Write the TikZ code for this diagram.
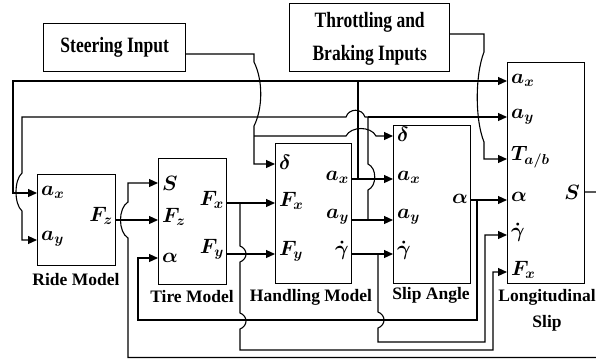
\documentclass[tikz,border=0pt]{standalone}
\usepackage{fontspec}
\setmainfont{Liberation Serif}
\usetikzlibrary{arrows.meta}
\begin{document}
\begin{tikzpicture}[x=1pt,y=-1pt,
  box/.style={draw,line width=1.4pt,inner sep=0pt,anchor=north west},
  lbl/.style={font=\fontsize{17.5}{26}\selectfont\bfseries,inner sep=0pt},
  port/.style={font=\fontsize{20}{22}\selectfont\boldmath,inner sep=0pt},
  pl/.style={port,anchor=west},
  pr/.style={port,anchor=east},
  wire/.style={line width=1.1pt},
  arr/.style={wire,-{Triangle[length=9pt,width=8pt]}},
]
\useasboundingbox (0,0) rectangle (596,360);

% boxes
\node[box,lbl,minimum width=142pt,minimum height=48pt] (steer) at (43,23) {\scalebox{1}[1.25]{Steering Input}};
\node[box,lbl,minimum width=160pt,minimum height=68pt] (throt) at (289,3)
  {\scalebox{1}[1.25]{\begin{tabular}{@{}c@{}}Throttling and\\Braking Inputs\end{tabular}}};
\node[box,minimum width=78pt,minimum height=91pt] (ride) at (37,174) {};
\node[box,minimum width=68pt,minimum height=126pt] (tire) at (158,158) {};
\node[box,minimum width=76pt,minimum height=140pt] (hand) at (275,143) {};
\node[box,minimum width=77pt,minimum height=158pt] (slip) at (393,125) {};
\node[box,minimum width=77pt,minimum height=221pt] (long) at (507,62) {};

% captions
\node[lbl] (ridel) at (76,280) {Ride Model};
\node[lbl] (tirel) at (192,297) {Tire Model};
\node[lbl] (handl) at (311,297) {Handling Model};
\node[lbl] (slipl) at (431,295) {Slip Angle};
\node[lbl,align=center] (longl) at (547,310) {Longitudinal\\Slip};

% port labels
\node[pl] (l-rax) at (41,192) {$a_x$};
\node[pl] (l-ray) at (41,239) {$a_y$};
\node[pr] (l-rfz) at (113,216) {$F_z$};
\node[pl] (l-ts) at (162,183) {$S$};
\node[pl] (l-tfz) at (162,217) {$F_z$};
\node[pl] (l-tal) at (162,258) {$\alpha$};
\node[pr] (l-tfx) at (224,200) {$F_x$};
\node[pr] (l-tfy) at (224,249) {$F_y$};
\node[pl] (l-hd) at (279,162) {$\delta$};
\node[pl] (l-hfx) at (279,201) {$F_x$};
\node[pl] (l-hfy) at (279,251) {$F_y$};
\node[pr] (l-hax) at (349,177) {$a_x$};
\node[pr] (l-hay) at (349,217) {$a_y$};
\node[pr] (l-hgd) at (349,250) {$\dot{\gamma}$};
\node[pl] (l-sd) at (397,134) {$\delta$};
\node[pl] (l-sax) at (397,177) {$a_x$};
\node[pl] (l-say) at (397,217) {$a_y$};
\node[pl] (l-sgd) at (397,250) {$\dot{\gamma}$};
\node[pr] (l-sal) at (468,199) {$\alpha$};
\node[pl] (l-lax) at (511,80) {$a_x$};
\node[pl] (l-lay) at (511,117) {$a_y$};
\node[pl] (l-lt) at (511,157) {$T_{a/b}$};
\node[pl] (l-lal) at (511,197) {$\alpha$};
\node[pl] (l-lgd) at (511,232) {$\dot{\gamma}$};
\node[pl] (l-lfx) at (511,270) {$F_x$};
\node[pr] (l-ls) at (580,192) {$S$};

% port coordinates
\coordinate (rax) at (37,193);  \coordinate (ray) at (37,240);  \coordinate (rfz) at (115,220);
\coordinate (ts) at (158,183);  \coordinate (tfz) at (158,220); \coordinate (tal) at (158,258);
\coordinate (tfx) at (226,203); \coordinate (tfy) at (226,254);
\coordinate (hd) at (275,164);  \coordinate (hfx) at (275,203); \coordinate (hfy) at (275,254);
\coordinate (hax) at (351,179); \coordinate (hay) at (351,220); \coordinate (hgd) at (351,254);
\coordinate (sd) at (393,136);  \coordinate (sax) at (393,179); \coordinate (say) at (393,220);
\coordinate (sgd) at (393,254); \coordinate (sal) at (470,200);
\coordinate (lax) at (507,81);  \coordinate (lay) at (507,117); \coordinate (lt) at (507,159);
\coordinate (lal) at (507,200); \coordinate (lgd) at (507,235); \coordinate (lfx) at (507,272);
\coordinate (ls) at (584,192);
\coordinate (so) at (185,54);   \coordinate (tho) at (449,34);

% steering
\draw[arr] (so) -- (254,54) -- (254,62) .. controls (263,80) and (263,108) .. (254,126) -- (254,164) -- (hd);
\draw[arr] (254,136) -- (346,136) .. controls (351,126) and (371,126) .. (376,136) -- (sd);
% throttle
\draw[arr] (tho) -- (484,34) -- (484,52) .. controls (475,75) and (475,120) .. (484,142) -- (484,159) -- (lt);
% a_x
\draw[arr] (hax) -- (sax);
\draw[arr] (358,179) -- (358,81) -- (lax);
\draw[arr] (358,81) -- (13,81) -- (13,193) -- (rax);
% a_y
\draw[arr] (hay) -- (say);
\draw[wire] (368,220) -- (368,190) .. controls (377,186) and (377,168) .. (368,164) -- (368,117);
\draw[arr] (368,117) -- (lay);
\draw[arr] (368,117) -- (365,117) .. controls (362,108) and (349,108) .. (346,117) -- (22,117) -- (22,173)
  .. controls (14,180) and (14,204) .. (22,211) -- (22,240) -- (ray);
% F_z and S feedback
\draw[arr] (rfz) -- (tfz);
\draw[arr] (ls) -- (600,192) -- (600,357.5) -- (128,357.5) -- (128,238) .. controls (118,232) and (118,208) .. (128,202) -- (128,183) -- (ts);
% F_x
\draw[arr] (tfx) -- (hfx);
\draw[arr] (240,203) -- (240,246) .. controls (248,249) and (248,259) .. (240,262) -- (240,313)
  .. controls (248,316) and (248,326) .. (240,329) -- (240,350) -- (493,350) -- (493,272) -- (lfx);
% F_y
\draw[arr] (tfy) -- (hfy);
% alpha
\draw[arr] (sal) -- (lal);
\draw[arr] (477,200) -- (477,320) -- (138,320) -- (138,258) -- (tal);
% gamma dot
\draw[arr] (hgd) -- (sgd);
\draw[arr] (378,254) -- (378,312) .. controls (386,315) and (386,325) .. (378,328) -- (378,342) -- (485,342) -- (485,235) -- (lgd);
\end{tikzpicture}
\end{document}
